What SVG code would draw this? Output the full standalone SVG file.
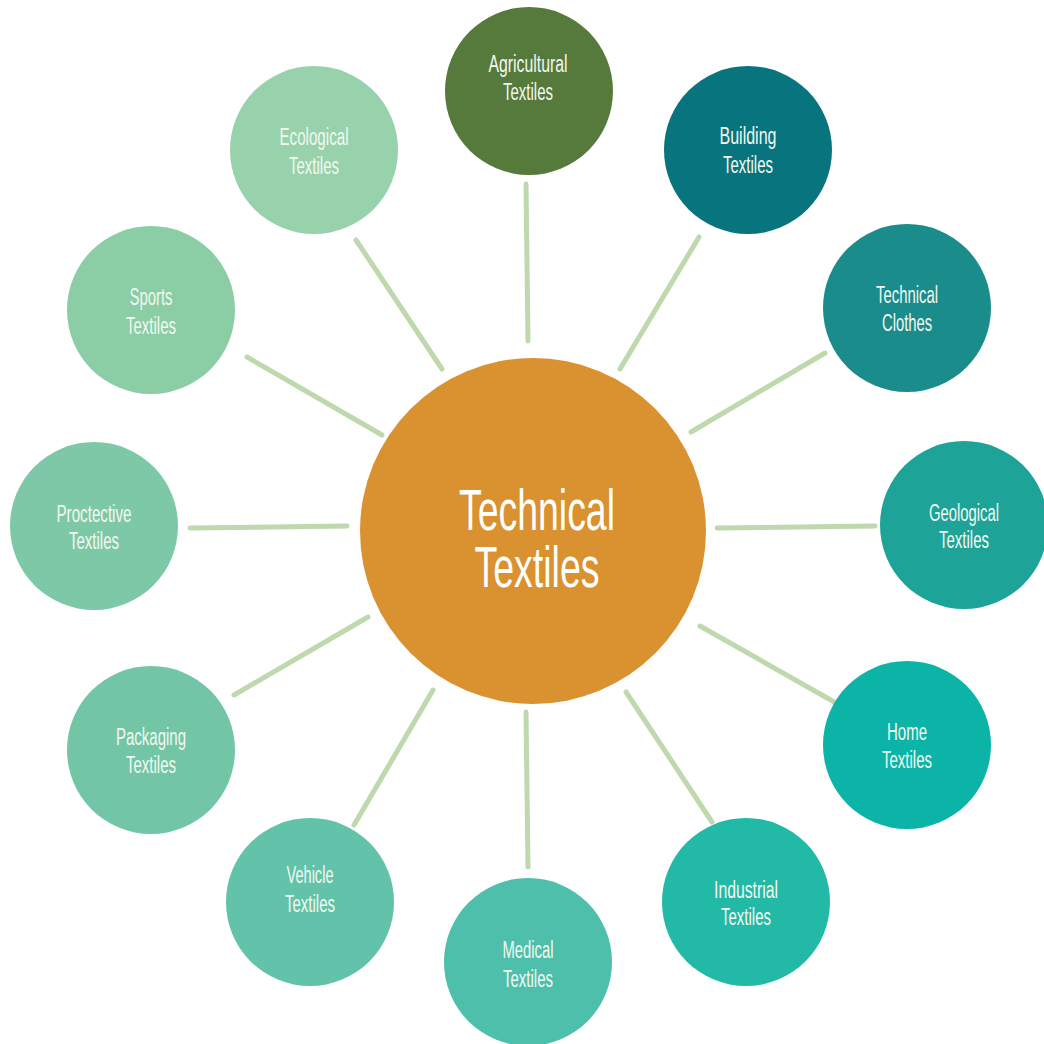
<svg xmlns="http://www.w3.org/2000/svg" width="1044" height="1044" viewBox="0 0 1044 1044">
<style>
.lbl{font-family:"Liberation Sans",Arial,sans-serif;font-size:23px;fill:#f2f8f0;text-anchor:middle}
.big{font-family:"Liberation Sans",Arial,sans-serif;font-size:58px;fill:#ffffff;text-anchor:middle}
.conn line{stroke:#bdd9ad;stroke-width:5;stroke-linecap:round}
</style>
<rect width="1044" height="1044" fill="#ffffff"/>
<g id="connectors" class="conn">
<line x1="526" y1="184" x2="528" y2="341"/>
<line x1="699" y1="237" x2="620" y2="369"/>
<line x1="825" y1="353" x2="691" y2="432"/>
<line x1="875" y1="526" x2="717" y2="528"/>
<line x1="700" y1="626" x2="836" y2="703"/>
<line x1="626" y1="692" x2="712" y2="822"/>
<line x1="526" y1="712" x2="528" y2="867"/>
<line x1="433" y1="690" x2="354" y2="825"/>
<line x1="368" y1="617" x2="234" y2="695"/>
<line x1="190" y1="528" x2="347" y2="526"/>
<line x1="247" y1="357" x2="382" y2="435"/>
<line x1="356" y1="240" x2="442" y2="369"/>
</g>
<g id="center">
<circle cx="533" cy="531" r="173" fill="#da9130"/>
<text class="big" x="537" y="530" textLength="156" lengthAdjust="spacingAndGlyphs">Technical</text>
<text class="big" x="537" y="587" textLength="125" lengthAdjust="spacingAndGlyphs">Textiles</text>
</g>
<g id="agricultural">
<circle cx="529" cy="91" r="84" fill="#567a3c"/>
<text class="lbl" x="528" y="72" textLength="79" lengthAdjust="spacingAndGlyphs">Agricultural</text>
<text class="lbl" x="528" y="100" textLength="50" lengthAdjust="spacingAndGlyphs">Textiles</text>
</g>
<g id="building">
<circle cx="748" cy="150" r="84" fill="#08747d"/>
<text class="lbl" x="748" y="144" textLength="57" lengthAdjust="spacingAndGlyphs">Building</text>
<text class="lbl" x="748" y="173" textLength="50" lengthAdjust="spacingAndGlyphs">Textiles</text>
</g>
<g id="technical-clothes">
<circle cx="907" cy="308" r="84" fill="#1b8c8c"/>
<text class="lbl" x="907" y="303" textLength="62" lengthAdjust="spacingAndGlyphs">Technical</text>
<text class="lbl" x="907" y="331" textLength="50" lengthAdjust="spacingAndGlyphs">Clothes</text>
</g>
<g id="geological">
<circle cx="964" cy="525" r="84" fill="#1ea399"/>
<text class="lbl" x="964" y="521" textLength="70" lengthAdjust="spacingAndGlyphs">Geological</text>
<text class="lbl" x="964" y="548" textLength="50" lengthAdjust="spacingAndGlyphs">Textiles</text>
</g>
<g id="home">
<circle cx="907" cy="745" r="84" fill="#0cb4a8"/>
<text class="lbl" x="907" y="740" textLength="40" lengthAdjust="spacingAndGlyphs">Home</text>
<text class="lbl" x="907" y="768" textLength="50" lengthAdjust="spacingAndGlyphs">Textiles</text>
</g>
<g id="industrial">
<circle cx="746" cy="902" r="84" fill="#22b9a6"/>
<text class="lbl" x="746" y="898" textLength="64" lengthAdjust="spacingAndGlyphs">Industrial</text>
<text class="lbl" x="746" y="925" textLength="50" lengthAdjust="spacingAndGlyphs">Textiles</text>
</g>
<g id="medical">
<circle cx="528" cy="962" r="84" fill="#4dbfab"/>
<text class="lbl" x="528" y="958" textLength="51" lengthAdjust="spacingAndGlyphs">Medical</text>
<text class="lbl" x="528" y="987" textLength="50" lengthAdjust="spacingAndGlyphs">Textiles</text>
</g>
<g id="vehicle">
<circle cx="310" cy="902" r="84" fill="#62c3aa"/>
<text class="lbl" x="310" y="883" textLength="47" lengthAdjust="spacingAndGlyphs">Vehicle</text>
<text class="lbl" x="310" y="912" textLength="50" lengthAdjust="spacingAndGlyphs">Textiles</text>
</g>
<g id="packaging">
<circle cx="151" cy="750" r="84" fill="#72c6a6"/>
<text class="lbl" x="151" y="745" textLength="70" lengthAdjust="spacingAndGlyphs">Packaging</text>
<text class="lbl" x="151" y="773" textLength="50" lengthAdjust="spacingAndGlyphs">Textiles</text>
</g>
<g id="proctective">
<circle cx="94" cy="526" r="84" fill="#7dc9a7"/>
<text class="lbl" x="94" y="522" textLength="75" lengthAdjust="spacingAndGlyphs">Proctective</text>
<text class="lbl" x="94" y="549" textLength="50" lengthAdjust="spacingAndGlyphs">Textiles</text>
</g>
<g id="sports">
<circle cx="151" cy="310" r="84" fill="#8bcda5"/>
<text class="lbl" x="151" y="305" textLength="43" lengthAdjust="spacingAndGlyphs">Sports</text>
<text class="lbl" x="151" y="334" textLength="50" lengthAdjust="spacingAndGlyphs">Textiles</text>
</g>
<g id="ecological">
<circle cx="314" cy="150" r="84" fill="#97d2ac"/>
<text class="lbl" x="314" y="145" textLength="69" lengthAdjust="spacingAndGlyphs">Ecological</text>
<text class="lbl" x="314" y="174" textLength="50" lengthAdjust="spacingAndGlyphs">Textiles</text>
</g>
</svg>
